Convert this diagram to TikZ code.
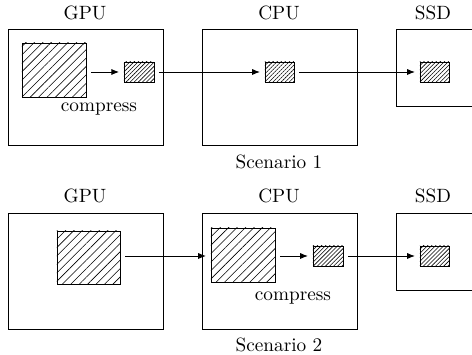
\documentclass[tikz,border=0pt]{standalone}
\usetikzlibrary{patterns.meta,fit,arrows.meta}
\begin{document}
\begin{tikzpicture}[x=0.52pt,y=-0.52pt,
  unit/.style={draw,line width=0.5pt,inner sep=0pt},
  bigdata/.style={draw,line width=0.5pt,inner sep=0pt,
    pattern={Lines[angle=45,distance=3.1pt,line width=0.3pt]}},
  smalldata/.style={draw,line width=0.5pt,inner sep=0pt,
    pattern={Lines[angle=45,distance=1.5pt,line width=0.3pt]}},
  conn/.style={-{Latex[length=4pt,width=3.2pt]},line width=0.5pt,
    shorten <=2.4pt,shorten >=2.4pt},
  lbl/.style={inner sep=0pt}]
\useasboundingbox (0,0) rectangle (472,355);
\clip (0,0) rectangle (472,355);

% ---- Scenario 1: compression on the GPU ----
\node[lbl] (tgpu1) at (85,13) {GPU};
\node[lbl] (tcpu1) at (279,13) {CPU};
\node[lbl] (tssd1) at (433,13) {SSD};

\node[unit,fit={(8,29) (163,145)}] (gpu1) {};
\node[unit,fit={(202,29) (357,145)}] (cpu1) {};
\node[unit,fit={(396,29) (480,106)}] (ssd1) {};

\node[bigdata,fit={(22,43) (86,97)}] (gbig1) {};
\node[smalldata,fit={(124,62) (154,82)}] (gsm1) {};
\node[smalldata,fit={(265,62) (294,82)}] (csm1) {};
\node[smalldata,fit={(420,62) (449,82)}] (ssm1) {};

\node[lbl] (comp1) at (99,109) {compress};
\node[lbl] (scen1) at (279,162) {Scenario 1};

\draw[conn] (gbig1.east |- gsm1.center) -- (gsm1.west);
\draw[conn] (gsm1.east) -- (csm1.west);
\draw[conn] (csm1.east) -- (ssm1.west);

% ---- Scenario 2: compression on the CPU ----
\node[lbl] (tgpu2) at (85,196) {GPU};
\node[lbl] (tcpu2) at (279,196) {CPU};
\node[lbl] (tssd2) at (433,196) {SSD};

\node[unit,fit={(8,213) (163,329)}] (gpu2) {};
\node[unit,fit={(202,213) (357,329)}] (cpu2) {};
\node[unit,fit={(396,213) (480,290)}] (ssd2) {};

\node[bigdata,fit={(57,231) (120,284)}] (gbig2) {};
\node[bigdata,fit={(211,228) (275,282)}] (cbig2) {};
\node[smalldata,fit={(313,246) (343,266)}] (csm2) {};
\node[smalldata,fit={(420,246) (449,266)}] (ssm2) {};

\node[lbl] (comp2) at (293,298) {compress};
\node[lbl] (scen2) at (279,345) {Scenario 2};

\draw[conn] (gbig2.east |- csm2.center) -- (cbig2.west |- csm2.center);
\draw[conn] (cbig2.east |- csm2.center) -- (csm2.west);
\draw[conn] (csm2.east) -- (ssm2.west);
\end{tikzpicture}
\end{document}
